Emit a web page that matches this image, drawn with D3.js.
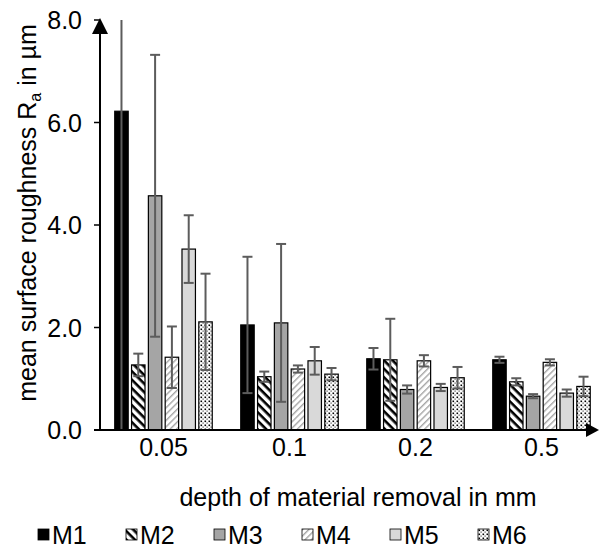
<!DOCTYPE html>
<html>
<head>
<meta charset="utf-8">
<script src="https://cdn.jsdelivr.net/npm/d3@7"></script>
<style>
  body { margin: 0; background: #fff; }
  text { font-family: "Liberation Sans", Arial, sans-serif; fill: #000; }
</style>
</head>
<body>
<div id="chart"></div>
<script>
// depth categories and series
const categories = ['0.05', '0.1', '0.2', '0.5'];
const series = ['M1', 'M2', 'M3', 'M4', 'M5', 'M6'];

// mean Ra per series, one value per depth
const meanM1 = [6.22, 2.05, 1.39, 1.37];
const meanM2 = [1.27, 1.04, 1.37, 0.94];
const meanM3 = [4.57, 2.09, 0.79, 0.66];
const meanM4 = [1.42, 1.19, 1.35, 1.32];
const meanM5 = [3.53, 1.35, 0.83, 0.72];
const meanM6 = [2.11, 1.09, 1.02, 0.85];

// standard deviations (error bars)
const errM1 = [6.30, 1.33, 0.21, 0.06];
const errM2 = [0.22, 0.10, 0.80, 0.07];
const errM3 = [2.75, 1.54, 0.08, 0.04];
const errM4 = [0.60, 0.07, 0.11, 0.06];
const errM5 = [0.66, 0.27, 0.07, 0.07];
const errM6 = [0.94, 0.12, 0.21, 0.19];

const yTicks = [0, 2, 4, 6, 8];

const means = [meanM1, meanM2, meanM3, meanM4, meanM5, meanM6];
const errs = [errM1, errM2, errM3, errM4, errM5, errM6];

const width = 599, height = 548;
const fontSize = '25px';
const svg = d3.select('#chart').append('svg')
    .attr('width', width)
    .attr('height', height);

// patterns
const defs = svg.append('defs');

const p2 = defs.append('pattern').attr('id', 'pM2')
    .attr('patternUnits', 'userSpaceOnUse')
    .attr('width', 6).attr('height', 6)
    .attr('patternTransform', 'rotate(45)');
p2.append('rect').attr('width', 6).attr('height', 6).attr('fill', '#fff');
p2.append('rect').attr('width', 6).attr('height', 2.6).attr('fill', '#000');

const p4 = defs.append('pattern').attr('id', 'pM4')
    .attr('patternUnits', 'userSpaceOnUse')
    .attr('width', 4.5).attr('height', 4.5)
    .attr('patternTransform', 'rotate(-45)');
p4.append('rect').attr('width', 4.5).attr('height', 4.5).attr('fill', '#fff');
p4.append('rect').attr('width', 4.5).attr('height', 1.4).attr('fill', '#a6a6a6');

const p6 = defs.append('pattern').attr('id', 'pM6')
    .attr('patternUnits', 'userSpaceOnUse')
    .attr('width', 4).attr('height', 4);
p6.append('rect').attr('width', 4).attr('height', 4).attr('fill', '#fff');
p6.append('rect').attr('x', 0.5).attr('y', 0.5).attr('width', 1.6).attr('height', 1.6).attr('fill', '#000');
p6.append('rect').attr('x', 2.5).attr('y', 2.5).attr('width', 1.2).attr('height', 1.2).attr('fill', '#444');

const fills = {
    'M1': '#000000',
    'M2': 'url(#pM2)',
    'M3': '#a5a5a5',
    'M4': 'url(#pM4)',
    'M5': '#d9d9d9',
    'M6': 'url(#pM6)'
};

// scales
const y = d3.scaleLinear().domain([0, 8]).range([430, 20]);
const x0 = d3.scaleBand().domain(categories).range([100.5, 604.5]);
const x1 = d3.scaleBand().domain(series).range([-48.75, 48.75]).paddingInner(0.2);

const clipY = v => y(Math.max(0, Math.min(8, v)));

// bars
const rows = [];
series.forEach((s, si) => {
    categories.forEach((c, ci) => {
        rows.push({ s, c, v: means[si][ci], e: errs[si][ci] });
    });
});

const g = svg.append('g');

g.selectAll('rect.bar')
    .data(rows)
    .enter().append('rect')
    .attr('class', 'bar')
    .attr('x', d => x0(d.c) + x0.bandwidth() / 2 + x1(d.s))
    .attr('y', d => y(d.v))
    .attr('width', x1.bandwidth())
    .attr('height', d => y(0) - y(d.v))
    .attr('fill', d => fills[d.s])
    .attr('stroke', '#000')
    .attr('stroke-width', 1.2);

// error bars
const errColor = '#5c5c5c';
const eb = g.append('g').selectAll('g')
    .data(rows)
    .enter().append('g')
    .attr('transform', d => `translate(${x0(d.c) + x0.bandwidth() / 2 + x1(d.s) + x1.bandwidth() / 2},0)`);

eb.append('line')
    .attr('x1', 0).attr('x2', 0)
    .attr('y1', d => clipY(d.v - d.e))
    .attr('y2', d => clipY(d.v + d.e))
    .attr('stroke', errColor)
    .attr('stroke-width', 2);

eb.filter(d => d.v + d.e <= 8).append('line')
    .attr('x1', -5).attr('x2', 5)
    .attr('y1', d => y(d.v + d.e)).attr('y2', d => y(d.v + d.e))
    .attr('stroke', errColor).attr('stroke-width', 2);

eb.filter(d => d.v - d.e >= 0).append('line')
    .attr('x1', -5).attr('x2', 5)
    .attr('y1', d => y(d.v - d.e)).attr('y2', d => y(d.v - d.e))
    .attr('stroke', errColor).attr('stroke-width', 2);

// axes
const axisG = svg.append('g');
axisG.append('line')
    .attr('x1', 94).attr('x2', 590)
    .attr('y1', y(0)).attr('y2', y(0))
    .attr('stroke', '#000').attr('stroke-width', 2);
axisG.append('path')
    .attr('d', `M599,${y(0)} L586,${y(0) - 7} L586,${y(0) + 7} Z`)
    .attr('fill', '#000');

axisG.append('line')
    .attr('x1', 100).attr('x2', 100)
    .attr('y1', y(0)).attr('y2', 30)
    .attr('stroke', '#000').attr('stroke-width', 2);
axisG.append('path')
    .attr('d', 'M100,18 L92,34 L108,34 Z')
    .attr('fill', '#000');

// y ticks
axisG.selectAll('line.yt')
    .data(yTicks)
    .enter().append('line')
    .attr('class', 'yt')
    .attr('x1', 94).attr('x2', 100)
    .attr('y1', d => y(d)).attr('y2', d => y(d))
    .attr('stroke', '#000').attr('stroke-width', 1.5);

axisG.selectAll('text.yl')
    .data(yTicks)
    .enter().append('text')
    .attr('class', 'yl')
    .attr('x', 82)
    .attr('y', d => y(d) + 9)
    .attr('text-anchor', 'end')
    .style('font-size', fontSize)
    .text(d => d.toFixed(1));

// x tick labels
axisG.selectAll('text.xl')
    .data(categories)
    .enter().append('text')
    .attr('class', 'xl')
    .attr('x', d => x0(d) + x0.bandwidth() / 2)
    .attr('y', 456)
    .attr('text-anchor', 'middle')
    .style('font-size', fontSize)
    .text(d => d);

// axis titles
svg.append('text')
    .attr('x', 358)
    .attr('y', 506)
    .attr('text-anchor', 'middle')
    .style('font-size', fontSize)
    .text('depth of material removal in mm');

const yTitle = svg.append('text')
    .attr('transform', 'translate(36,213) rotate(-90)')
    .attr('text-anchor', 'middle')
    .style('font-size', fontSize);
yTitle.append('tspan').text('mean surface roughness R');
yTitle.append('tspan').attr('dy', 5).style('font-size', '16px').text('a');
yTitle.append('tspan').attr('dy', -5).text(' in µm');

// legend
const legend = svg.append('g').selectAll('g')
    .data(series)
    .enter().append('g')
    .attr('transform', (d, i) => `translate(${38 + i * 88},529)`);

legend.append('rect')
    .attr('width', 11).attr('height', 11)
    .attr('fill', d => fills[d])
    .attr('stroke', '#000')
    .attr('stroke-width', 0.8);

legend.append('text')
    .attr('x', 14)
    .attr('y', 15)
    .style('font-size', fontSize)
    .text(d => d);
</script>
</body>
</html>
